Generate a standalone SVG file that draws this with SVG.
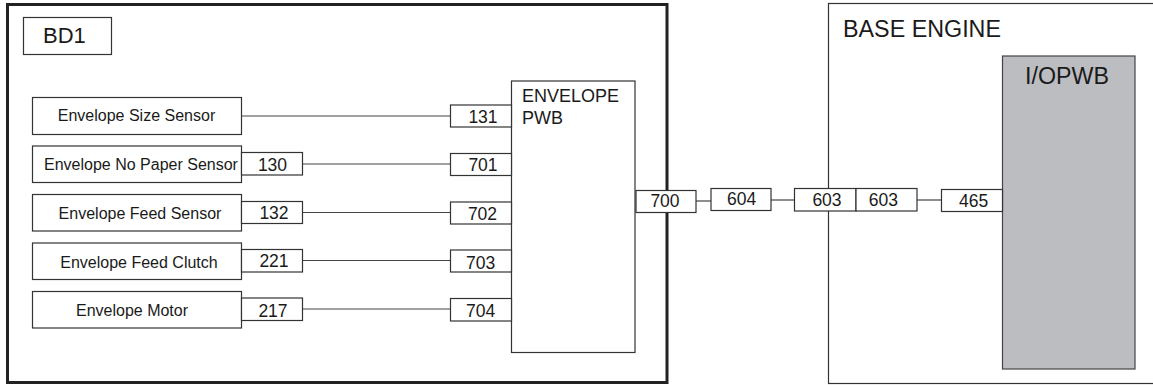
<svg xmlns="http://www.w3.org/2000/svg" width="1153" height="385" viewBox="0 0 1153 385">
<style>
  text { font-family: "Liberation Sans", Arial, sans-serif; fill: #1a1a1a; }
  .box { fill: #ffffff; stroke: #333333; stroke-width: 1.2; }
  .lbl { font-size: 16px; text-anchor: middle; }
  .num { font-size: 17.5px; text-anchor: middle; }
  .wire { stroke: #444444; stroke-width: 1.2; fill: none; }
</style>
<rect x="0" y="0" width="1153" height="385" fill="#ffffff"/>

<g id="bd1-frame">
  <rect x="7.5" y="4.5" width="659.5" height="378" fill="none" stroke="#222222" stroke-width="3"/>
</g>
<g id="bd1-label">
  <rect class="box" x="23.5" y="17.5" width="88" height="37"/>
  <text x="43" y="43.3" font-size="22">BD1</text>
</g>
<g id="base-engine">
  <rect x="828.5" y="3.5" width="340" height="380" fill="#ffffff" stroke="#333333" stroke-width="1.2"/>
  <text x="843" y="37" font-size="23.5" textLength="158" lengthAdjust="spacingAndGlyphs">BASE ENGINE</text>
</g>
<g id="io-pwb">
  <rect x="1002.5" y="56" width="132.5" height="313" fill="#bcbdc1" stroke="#444444" stroke-width="1.2"/>
  <text x="1025" y="84" font-size="23.5" textLength="84" lengthAdjust="spacingAndGlyphs">I/OPWB</text>
</g>

<g id="connectors">
  <line class="wire" x1="241" y1="116" x2="450" y2="116"/>
  <line class="wire" x1="302" y1="164" x2="450" y2="164"/>
  <line class="wire" x1="302" y1="212.5" x2="450" y2="212.5"/>
  <line class="wire" x1="302" y1="260.5" x2="450" y2="260.5"/>
  <line class="wire" x1="302" y1="309" x2="450" y2="309"/>
  <line class="wire" x1="696" y1="201" x2="711" y2="201"/>
  <line class="wire" x1="771" y1="200" x2="794" y2="200"/>
  <line class="wire" x1="917" y1="200" x2="941" y2="200"/>
</g>

<g id="envelope-size-sensor">
  <rect class="box" x="32.5" y="97.5" width="209" height="37"/>
  <text class="lbl" x="136.5" y="120.7">Envelope Size Sensor</text>
</g>
<g id="envelope-no-paper-sensor">
  <rect class="box" x="32.5" y="146" width="209" height="36.5"/>
  <text class="lbl" x="141" y="170">Envelope No Paper Sensor</text>
  <rect class="box" x="241.5" y="152.5" width="61" height="22.5"/>
  <text class="num" x="272.5" y="170.7">130</text>
</g>
<g id="envelope-feed-sensor">
  <rect class="box" x="32.5" y="194.5" width="209" height="36.5"/>
  <text class="lbl" x="140" y="219">Envelope Feed Sensor</text>
  <rect class="box" x="241.5" y="201.5" width="61" height="22"/>
  <text class="num" x="274" y="219.3">132</text>
</g>
<g id="envelope-feed-clutch">
  <rect class="box" x="32.5" y="243" width="209" height="36.5"/>
  <text class="lbl" x="139" y="267.7">Envelope Feed Clutch</text>
  <rect class="box" x="241.5" y="249.5" width="61" height="22.5"/>
  <text class="num" x="274" y="267.3">221</text>
</g>
<g id="envelope-motor">
  <rect class="box" x="32.5" y="291.5" width="209" height="36.5"/>
  <text class="lbl" x="132" y="316">Envelope Motor</text>
  <rect class="box" x="241.5" y="298" width="61" height="22.5"/>
  <text class="num" x="273" y="316.7">217</text>
</g>

<g id="envelope-pwb">
  <rect class="box" x="511.5" y="81" width="123.5" height="271.5"/>
  <text x="522" y="102" font-size="18">ENVELOPE</text>
  <text x="522" y="123.5" font-size="18">PWB</text>
  <rect class="box" x="450.5" y="105" width="61" height="22"/>
  <text class="num" x="483" y="123.3">131</text>
  <rect class="box" x="450.5" y="153.5" width="61" height="22"/>
  <text class="num" x="483" y="170.7">701</text>
  <rect class="box" x="450.5" y="202" width="61" height="22"/>
  <text class="num" x="482.5" y="220">702</text>
  <rect class="box" x="450.5" y="250" width="61" height="22"/>
  <text class="num" x="480.7" y="269.3">703</text>
  <rect class="box" x="450.5" y="298.5" width="61" height="22.5"/>
  <text class="num" x="480.7" y="316.7">704</text>
  <rect class="box" x="636" y="190.5" width="60" height="22"/>
  <text class="num" x="665" y="206.7">700</text>
</g>

<g id="relay-604">
  <rect class="box" x="711" y="188.5" width="60" height="22"/>
  <text class="num" x="741.7" y="205.3">604</text>
</g>
<g id="relay-603">
  <rect class="box" x="794.5" y="188.5" width="61.5" height="22.5"/>
  <text class="num" x="827" y="205.7">603</text>
  <rect class="box" x="856" y="188.5" width="61" height="22.5"/>
  <text class="num" x="883.3" y="205.7">603</text>
</g>
<g id="io-465">
  <rect class="box" x="941.5" y="189.5" width="61" height="22"/>
  <text class="num" x="973.7" y="206.7">465</text>
</g>
</svg>
